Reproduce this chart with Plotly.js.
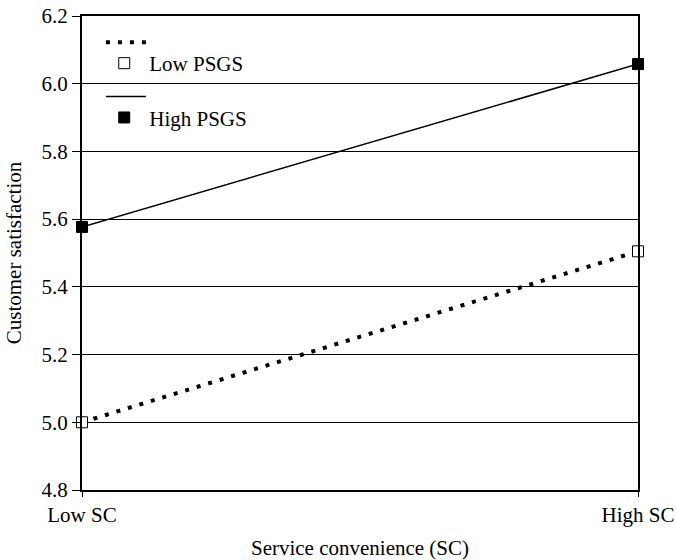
<!DOCTYPE html>
<html>
<head>
<meta charset="utf-8">
<script src="https://cdn.plot.ly/plotly-3.0.1.min.js"></script>
<style>html,body{margin:0;padding:0;background:#fff;}#chart{width:676px;height:560px;}</style>
</head>
<body>
<div id="chart"></div>
<script>
const categories = ["Low SC", "High SC"];
const lowPSGS = [5.0, 5.505];
const highPSGS = [5.577, 6.058];
const yTicks = [4.8, 5.0, 5.2, 5.4, 5.6, 5.8, 6.0, 6.2];
const yTickText = ["4.8", "5.0", "5.2", "5.4", "5.6", "5.8", "6.0", "6.2"];

const font = {family: "Liberation Serif, Times New Roman, serif", color: "#000"};

const traces = [
  {x: categories, y: lowPSGS, mode: "lines", name: " ", legend: "legend2", legendgroup: "a",
   line: {color: "#000", width: 4, dash: "4px,8px"}, hoverinfo: "skip"},
  {x: categories, y: lowPSGS, mode: "markers", name: "Low PSGS", legend: "legend", legendgroup: "c",
   marker: {symbol: "square", size: 11, color: "#fff", line: {color: "#000", width: 1}}, cliponaxis: false},
  {x: categories, y: highPSGS, mode: "lines", name: " ", legend: "legend2", legendgroup: "b",
   line: {color: "#000", width: 1.5}, hoverinfo: "skip"},
  {x: categories, y: highPSGS, mode: "markers", name: "High PSGS", legend: "legend", legendgroup: "d",
   marker: {symbol: "square", size: 11, color: "#000", line: {color: "#000", width: 1}}, cliponaxis: false}
];

const layout = {
  width: 676, height: 560,
  margin: {l: 82, r: 38, t: 16, b: 70},
  paper_bgcolor: "#fff", plot_bgcolor: "#fff",
  font: Object.assign({size: 21}, font),
  showlegend: true,
  legend2: {x: 0.034, y: 0.987, xanchor: "left", yanchor: "top", bgcolor: "rgba(0,0,0,0)",
           font: Object.assign({size: 21}, font), tracegroupgap: 24, itemwidth: 40, traceorder: "grouped"},
  legend: {x: 0.031, y: 0.943, xanchor: "left", yanchor: "top", bgcolor: "rgba(0,0,0,0)",
           font: Object.assign({size: 21}, font), tracegroupgap: 24, itemwidth: 40, traceorder: "grouped"},
  xaxis: {
    type: "category", range: [0, 1], fixedrange: true,
    showline: true, linecolor: "#000", linewidth: 2, mirror: true,
    ticks: "outside", ticklen: 5, tickcolor: "#000", tickwidth: 1,
    showgrid: false, zeroline: false,
    tickfont: Object.assign({size: 21}, font),
    title: {text: "Service convenience (SC)", font: Object.assign({size: 21}, font), standoff: 20}
  },
  yaxis: {
    range: [4.8, 6.2], tickvals: yTicks, ticktext: yTickText,
    showline: true, linecolor: "#000", linewidth: 2, mirror: true,
    ticks: "outside", ticklen: 8, tickcolor: "#000", tickwidth: 1,
    showgrid: true, gridcolor: "#000", gridwidth: 1, zeroline: false,
    tickfont: Object.assign({size: 21}, font),
    title: {text: "Customer satisfaction", font: Object.assign({size: 21}, font), standoff: 14}
  }
};

Plotly.newPlot("chart", traces, layout, {displayModeBar: false, staticPlot: true});
</script>
</body>
</html>
